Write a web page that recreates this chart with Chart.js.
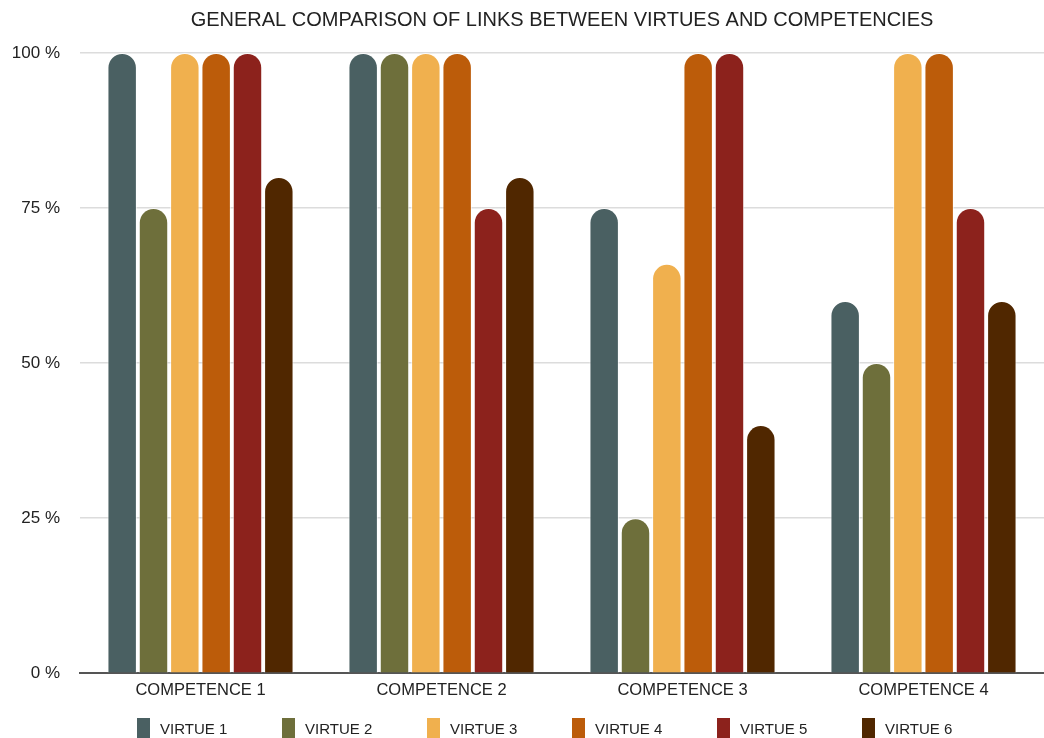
<!DOCTYPE html>
<html>
<head>
<meta charset="utf-8">
<script src="https://cdn.jsdelivr.net/npm/chart.js@4"></script>
<style>
  html, body { margin: 0; padding: 0; background: #fff; }
  #wrap { position: relative; width: 1044px; height: 738px; }
  #legend {
    position: absolute; left: 137px; top: 717px; height: 22px;
    display: flex;
    font-family: "Liberation Sans", Arial, sans-serif; font-size: 15px; color: #222;
  }
  .item { display: flex; align-items: center; width: 145px; }
  .box { width: 13px; height: 20px; margin-right: 10px; }
</style>
</head>
<body>
<div id="wrap">
  <canvas id="chart" width="1044" height="738"></canvas>
  <div id="legend"></div>
</div>
<script>
const categories = ["COMPETENCE 1", "COMPETENCE 2", "COMPETENCE 3", "COMPETENCE 4"];
const seriesNames = ["VIRTUE 1", "VIRTUE 2", "VIRTUE 3", "VIRTUE 4", "VIRTUE 5", "VIRTUE 6"];
const virtue1 = [100, 100, 75, 60];
const virtue2 = [75, 100, 25, 50];
const virtue3 = [100, 100, 66, 100];
const virtue4 = [100, 100, 100, 100];
const virtue5 = [100, 75, 100, 75];
const virtue6 = [80, 80, 40, 60];
const yTicks = [0, 25, 50, 75, 100];

const colors = ["#4a6062", "#6e6f3b", "#f0b04e", "#bc5c0a", "#8c221c", "#502700"];
const values = [virtue1, virtue2, virtue3, virtue4, virtue5, virtue6];

const $ = (id) => document.getElementById(id);
const FONT = '"Liberation Sans", Arial, sans-serif';

const datasets = seriesNames.map((name, i) => ({
  label: name,
  data: values[i],
  backgroundColor: colors[i],
  borderColor: "rgba(255,255,255,0.7)",
  borderWidth: 1,
  borderSkipped: "start",
  borderRadius: { topLeft: 15, topRight: 15 },
  categoryPercentage: 0.78,
  barPercentage: 0.94,
}));

new Chart($("chart"), {
  type: "bar",
  data: { labels: categories, datasets },
  options: {
    responsive: false,
    animation: false,
    layout: { padding: { left: 0, right: 0, top: 6, bottom: 31 } },
    plugins: {
      legend: { display: false },
      tooltip: { enabled: false },
      title: {
        display: true,
        fullSize: false,
        text: "GENERAL COMPARISON OF LINKS BETWEEN VIRTUES AND COMPETENCIES",
        color: "#222",
        font: { family: FONT, size: 20, weight: "normal" },
        padding: { top: 2, bottom: 21 },
      },
    },
    scales: {
      x: {
        grid: { display: false, drawTicks: false },
        border: { display: true, color: "#555", width: 2 },
        ticks: { color: "#222", font: { family: FONT, size: 16.5 }, padding: 7 },
      },
      y: {
        min: 0,
        max: 100,
        afterBuildTicks: (axis) => { axis.ticks = yTicks.map((v) => ({ value: v })); },
        afterFit: (axis) => { axis.width = 80; },
        grid: { color: "#dcdcdc", lineWidth: 1.5, drawTicks: false },
        border: { display: false },
        ticks: {
          color: "#222",
          font: { family: FONT, size: 17 },
          padding: 20,
          callback: (v) => v + " %",
        },
      },
    },
  },
});

const legend = $("legend");
seriesNames.forEach((name, i) => {
  const el = document.createElement("div");
  el.className = "item";
  el.innerHTML = `<span class="box" style="background:${colors[i]}"></span><span>${name}</span>`;
  legend.appendChild(el);
});
</script>
</body>
</html>
